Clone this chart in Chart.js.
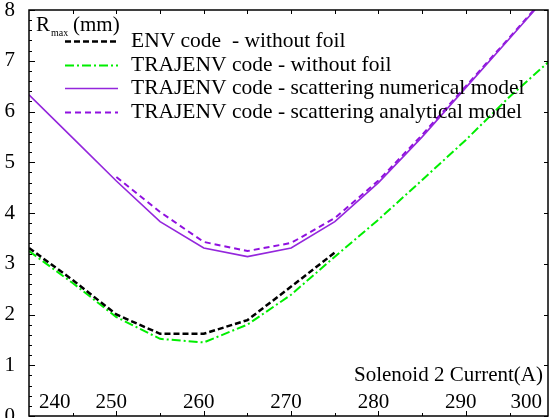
<!DOCTYPE html>
<html>
<head>
<meta charset="utf-8">
<script src="https://cdn.jsdelivr.net/npm/chart.js@4.4.1/dist/chart.umd.min.js"></script>
<style>
  html, body { margin: 0; padding: 0; background: #fff; }
  #wrap { width: 550px; height: 418px; }
</style>
</head>
<body>
<div id="wrap"><canvas id="rmaxChart" width="550" height="418"></canvas></div>
<script>
// courant du solenoide 2 (A)
const currents = [240, 245, 250, 255, 260, 265, 270, 275, 280, 285, 290, 295, 300];
// R max (mm) - null = pas de point
const envNoFoil      = [3.31, 2.68, 2.00, 1.62, 1.62, 1.89, 2.55, 3.22, null, null, null, null, null];
const trajNoFoil     = [3.25, 2.62, 1.95, 1.52, 1.45, 1.80, 2.39, 3.14, 3.87, 4.65, 5.44, 6.29, 7.06];
const trajNumerical  = [6.33, 5.48, 4.63, 3.83, 3.31, 3.14, 3.31, 3.83, 4.60, 5.50, 6.47, 7.44, 8.41];
const trajAnalytical = [null, null, 4.71, 4.02, 3.43, 3.25, 3.41, 3.90, 4.64, 5.54, 6.50, 7.46, 8.43];

const seriesLabels = [
    'ENV code  - without foil',
    'TRAJENV code - without foil',
    'TRAJENV code - scattering numerical model',
    'TRAJENV code - scattering analytical model'
];
const xTickLabels = [240, 250, 260, 270, 280, 290, 300];
const xTitle = 'Solenoid 2 Current(A)';

const SERIF = "'Liberation Serif', 'DejaVu Serif', serif";

function toPoints(values) {
    return currents
        .map((x, i) => ({ x: x, y: values[i] }))
        .filter(p => p.y !== null);
}

// cadre, graduations, textes et legende dessines dans la zone du graphe
const framePlugin = {
    id: 'frame',
    afterDatasetsDraw(chart) {
        const ctx = chart.ctx;
        const area = chart.chartArea;
        const xs = chart.scales.x;
        const ys = chart.scales.y;

        ctx.save();
        ctx.strokeStyle = '#000';
        ctx.lineWidth = 1.5;
        ctx.setLineDash([]);
        ctx.strokeRect(area.left, area.top, area.right - area.left, area.bottom - area.top);

        // graduations y (gauche : majeures + mineures, droite : majeures)
        ctx.lineWidth = 1;
        ctx.beginPath();
        for (let k = 0; k <= 40; k++) {
            const v = k * 0.2;
            const py = Math.round(ys.getPixelForValue(v)) + 0.5;
            const major = k % 5 === 0;
            ctx.moveTo(area.left, py);
            ctx.lineTo(area.left + (major ? 6 : 3), py);
            if (major) {
                ctx.moveTo(area.right, py);
                ctx.lineTo(area.right - 4, py);
            }
        }
        // graduations x (haut et bas, tous les 5 A)
        for (let v = 245; v < xs.max; v += 5) {
            const px = Math.round(xs.getPixelForValue(v)) + 0.5;
            ctx.moveTo(px, area.bottom);
            ctx.lineTo(px, area.bottom - (v % 10 === 0 ? 5 : 3));
            ctx.moveTo(px, area.top);
            ctx.lineTo(px, area.top + 4);
        }
        ctx.stroke();

        // etiquettes x a l'interieur du cadre
        ctx.fillStyle = '#000';
        ctx.font = '21px ' + SERIF;
        ctx.textAlign = 'center';
        ctx.textBaseline = 'alphabetic';
        xTickLabels.forEach(v => {
            const text = String(v);
            const half = ctx.measureText(text).width / 2;
            let px = xs.getPixelForValue(v);
            if (v > 240 && v < 300) px -= 5;
            px = Math.max(area.left + half + 10, Math.min(area.right - half - 6, px));
            ctx.fillText(text, px, area.bottom - 8);
        });

        // titre x
        ctx.textAlign = 'right';
        ctx.fillText(xTitle, area.right - 5, area.bottom - 35);

        // titre y : R_max (mm)
        ctx.textAlign = 'left';
        ctx.fillText('R', area.left + 7, area.top + 21);
        ctx.font = '10px ' + SERIF;
        ctx.fillText('max', area.left + 22, area.top + 26);
        ctx.font = '21px ' + SERIF;
        ctx.fillText('(mm)', area.left + 44, area.top + 21);

        // legende
        ctx.font = '21.5px ' + SERIF;
        chart.data.datasets.forEach((ds, i) => {
            const base = area.top + 37 + i * 23.7;
            const ly = Math.round(base - 6) + 0.5;
            ctx.strokeStyle = ds.borderColor;
            ctx.lineWidth = ds.borderWidth;
            ctx.setLineDash(ds.borderDash || []);
            ctx.beginPath();
            ctx.moveTo(area.left + 36, ly);
            ctx.lineTo(area.left + 89, ly);
            ctx.stroke();
            ctx.fillText(ds.label, area.left + 102, base);
        });
        ctx.restore();
    }
};

const ctx = document.getElementById('rmaxChart').getContext('2d');
const rmaxChart = new Chart(ctx, {
    type: 'line',
    data: {
        datasets: [
            {
                label: seriesLabels[0],
                data: toPoints(envNoFoil),
                borderColor: '#000000',
                borderWidth: 2.5,
                borderDash: [6, 3]
            },
            {
                label: seriesLabels[1],
                data: toPoints(trajNoFoil),
                borderColor: '#00ee00',
                borderWidth: 2,
                borderDash: [9, 3, 2, 3]
            },
            {
                label: seriesLabels[2],
                data: toPoints(trajNumerical),
                borderColor: '#9426dc',
                borderWidth: 1.6
            },
            {
                label: seriesLabels[3],
                data: toPoints(trajAnalytical),
                borderColor: '#9010e0',
                borderWidth: 2,
                borderDash: [6, 4]
            }
        ]
    },
    options: {
        responsive: false,
        animation: false,
        devicePixelRatio: 1,
        layout: { padding: { left: 0, top: 10, right: 2, bottom: 2 } },
        elements: {
            point: { radius: 0, hoverRadius: 0 },
            line: { tension: 0, fill: false }
        },
        scales: {
            x: {
                type: 'linear',
                min: 240,
                max: 299.4,
                display: false
            },
            y: {
                type: 'linear',
                min: 0,
                max: 8,
                grid: { display: false },
                border: { display: false },
                ticks: {
                    stepSize: 1,
                    padding: 6,
                    color: '#000',
                    font: { family: SERIF, size: 21 }
                },
                afterFit: function(scale) {
                    scale.width = 29;
                    scale.paddingTop = 0;
                    scale.paddingBottom = 0;
                }
            }
        },
        plugins: {
            legend: { display: false },
            tooltip: { enabled: false }
        }
    },
    plugins: [framePlugin]
});
</script>
</body>
</html>
